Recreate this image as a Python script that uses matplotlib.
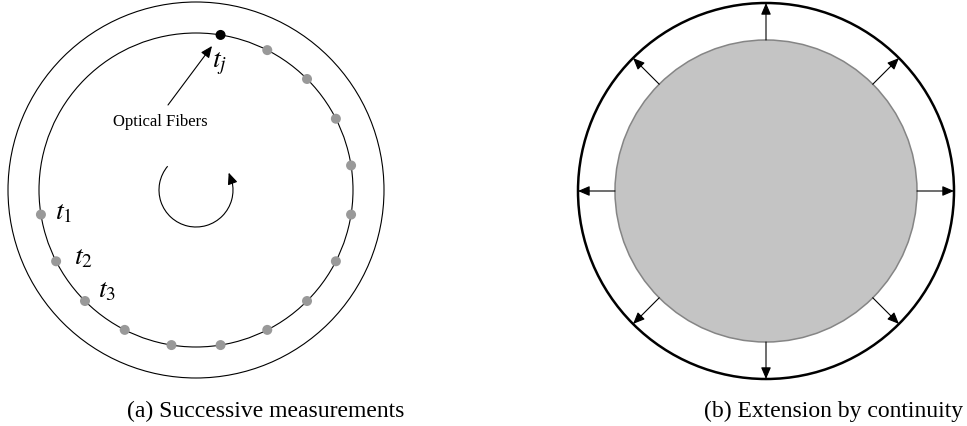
import numpy as np
import matplotlib
matplotlib.use("Agg")
import matplotlib.pyplot as plt
from matplotlib.patches import Circle, Arc, FancyArrowPatch

plt.rcParams['mathtext.fontset'] = 'stix'
SERIF = ['Liberation Serif', 'DejaVu Serif']

# ---- data ----
fiber_angles_deg = [81, 63, 45, 27, 9, -9, -27, -45, -63, -81, -99, -117, -135, -153, -171]
current_fiber = 0                      # index of the black (current) fiber
time_labels = ['$t_j$', '$t_1$', '$t_2$', '$t_3$']
time_label_fibers = [0, 14, 13, 12]
extension_angles_deg = [0, 45, 90, 135, 180, 225, 270, 315]
captions = ['(a) Successive measurements', '(b) Extension by continuity']
annotation_text = 'Optical Fibers'

# ---- geometry / style ----
cA = (196, 190); rA_out, rA_in = 188, 157
cB = (766, 191); rB_out, rB_in = 188, 151
label_pos = [(212, 67), (55, 219), (74, 264), (98, 297)]
ARROW = '-|>,head_length=0.7,head_width=0.3'

fig = plt.figure(figsize=(9.67, 4.26), dpi=100)
ax = fig.add_axes([0, 0, 1, 1])
ax.set_xlim(0, 967)
ax.set_ylim(426, 0)
ax.set_aspect('equal')
ax.axis('off')

# Panel (a)
ax.add_patch(Circle(cA, rA_out, fill=False, lw=0.8, ec='black'))
ax.add_patch(Circle(cA, rA_in, fill=False, lw=0.8, ec='black'))
for i, a in enumerate(fiber_angles_deg):
    t = np.deg2rad(a)
    x = cA[0] + rA_in * np.cos(t)
    y = cA[1] - rA_in * np.sin(t)
    col = 'black' if i == current_fiber else '#999999'
    ax.add_patch(Circle((x, y), 5, color=col, lw=0, zorder=3))

for lab, (x, y) in zip(time_labels, label_pos):
    ax.text(x, y, lab, fontsize=20, ha='left', va='baseline')

ax.add_patch(FancyArrowPatch((168, 105), (212, 46), arrowstyle=ARROW,
                             mutation_scale=10, lw=0.8, color='black',
                             shrinkA=0, shrinkB=0))
ax.text(160.5, 126, annotation_text, fontsize=12, family=SERIF,
        ha='center', va='baseline')

# rotation arrow (y axis inverted: data angle = -screen angle)
r_rot = 37
ax.add_patch(Arc(cA, 2 * r_rot, 2 * r_rot, theta1=-14, theta2=220,
                 lw=0.8, color='black'))
t_end = np.deg2rad(12)
p1 = (cA[0] + r_rot * np.cos(t_end), cA[1] - r_rot * np.sin(t_end))
t_tip = np.deg2rad(28)
p2 = (cA[0] + r_rot * np.cos(t_tip), cA[1] - r_rot * np.sin(t_tip))
ax.add_patch(FancyArrowPatch(p1, p2, arrowstyle=ARROW,
                             mutation_scale=10, lw=0.8, color='black',
                             shrinkA=0, shrinkB=0))

# Panel (b)
ax.add_patch(Circle(cB, rB_out, fill=False, lw=1.8, ec='black'))
ax.add_patch(Circle(cB, rB_in, fc='#c4c4c4', ec='#858585', lw=1.1))
for a in extension_angles_deg:
    t = np.deg2rad(a)
    p0 = (cB[0] + rB_in * np.cos(t), cB[1] - rB_in * np.sin(t))
    p1 = (cB[0] + rB_out * np.cos(t), cB[1] - rB_out * np.sin(t))
    ax.add_patch(FancyArrowPatch(p0, p1, arrowstyle=ARROW,
                                 mutation_scale=10, lw=0.8, color='black',
                                 shrinkA=0, shrinkB=0))

ax.text(127, 417, captions[0], fontsize=17, family=SERIF, ha='left', va='baseline')
ax.text(704, 417, captions[1], fontsize=17, family=SERIF, ha='left', va='baseline')

fig.savefig('out.png', dpi=100)
